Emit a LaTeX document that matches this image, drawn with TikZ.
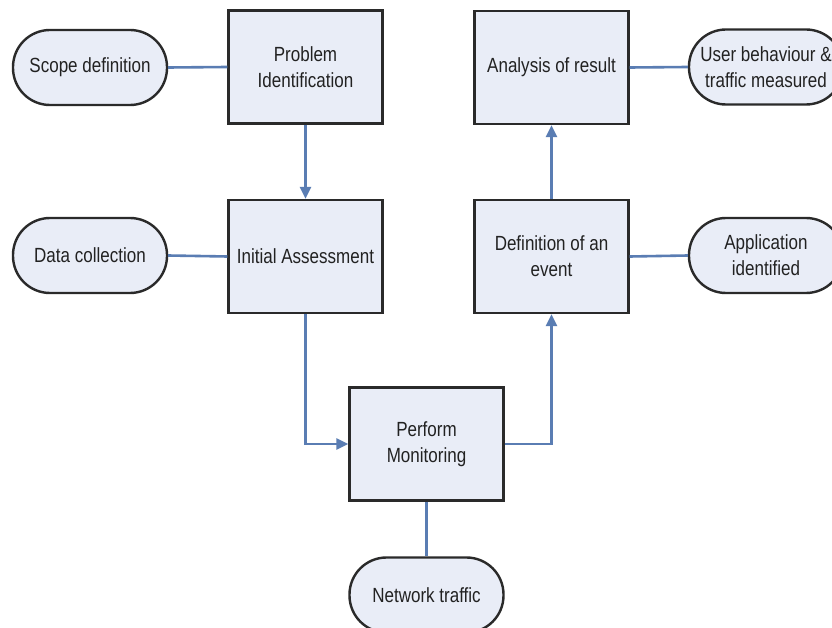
\documentclass[tikz,border=0pt]{standalone}
\usepackage{fontspec}
\newfontfamily\labfont{Liberation Sans}[FakeStretch=0.83]
\usetikzlibrary{arrows.meta}
\definecolor{boxfill}{HTML}{E9EDF7}
\definecolor{boxline}{HTML}{2A2A2A}
\definecolor{conn}{HTML}{5A7DB3}
\definecolor{txt}{HTML}{222222}
\tikzset{
  base/.style={draw=boxline, line width=2.4pt, fill=boxfill, text=txt, align=center,
    font=\labfont\fontsize{20.5}{26}\selectfont, inner sep=0pt},
  procbox/.style={base, rectangle, minimum width=154pt, minimum height=113pt},
  pill/.style={base, rectangle, rounded corners=37pt, minimum width=154pt, minimum height=75pt},
  link/.style={draw=conn, line width=2.6pt},
  arr/.style={link, -{Triangle[length=12pt,width=11pt]}}
}
\begin{document}
\begin{tikzpicture}[x=1pt,y=-1pt]
\useasboundingbox (0,0) rectangle (832,628);
\clip (0,0) rectangle (832,628);
\fill[white] (0,0) rectangle (832,628);
\node[procbox] (pi) at (305.5,67) {Problem\\Identification};
\node[procbox] (ia) at (305.5,256.5) {Initial Assessment};
\node[procbox] (ar) at (551.5,67.5) {Analysis of result};
\node[procbox] (de) at (551.5,256.5) {Definition of an\\event};
\node[procbox] (pm) at (426.5,444) {Perform\\Monitoring};
\node[pill] (sd) at (90,67.5) {Scope definition};
\node[pill] (dc) at (90,255.5) {Data collection};
\node[pill] (ub) at (766,67) {User behaviour \&\\traffic measured};
\node[pill] (ai) at (766,255.5) {Application\\identified};
\node[pill] (nt) at (426.5,595) {Network traffic};
\draw[link] (sd.east) -- (pi.west);
\draw[arr] (pi.south) -- (ia.north);
\draw[link] (dc.east) -- (ia.west);
\draw[arr] (ia.south) |- (pm.west);
\draw[arr] (pm.east) -| (de.south);
\draw[arr] (de.north) -- (ar.south);
\draw[link] (ar.east) -- (ub.west);
\draw[link] (de.east) -- (ai.west);
\draw[link] (pm.south) -- (nt.north);
\end{tikzpicture}
\end{document}
